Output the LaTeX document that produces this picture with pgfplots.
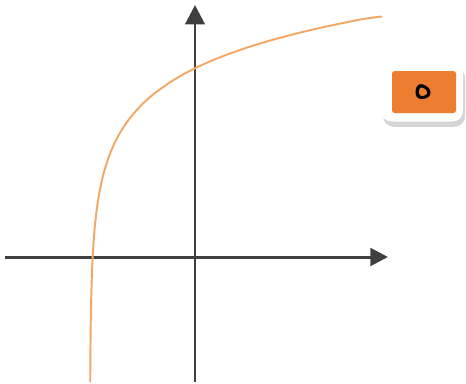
\documentclass[border=0pt]{standalone}
\usepackage{pgfplots}
\pgfplotsset{compat=1.18}
\usetikzlibrary{arrows.meta,shadows}
\usepackage{fontspec}
\TeXXeTstate=1
\newfontfamily\arabicfont[Script=Arabic]{DejaVu Sans}
\definecolor{axgray}{HTML}{3F3F3F}
\definecolor{curveor}{HTML}{F4A765}
\definecolor{boxor}{HTML}{ED7D31}
\begin{document}
\begin{tikzpicture}
\begin{axis}[
  hide axis, scale only axis, clip=false,
  width=9.32cm, height=7.64cm,
  xmin=-3.9, xmax=5.42, ymin=-2.5, ymax=5.14,
]
\path (axis cs:-3.9,-2.5) rectangle (axis cs:5.42,5.14);
\draw[axgray, line width=1.7pt, -{Triangle[width=10pt,length=10pt]}] (axis cs:-3.8,0) -- (axis cs:3.86,0);
\draw[axgray, line width=1.7pt, -{Triangle[width=11pt,length=11pt]}] (axis cs:0,-2.5) -- (axis cs:0,5.04);
\addplot[curveor, line width=1.1pt, smooth] coordinates {
(-2.0953,-2.50) (-2.094,-2.260) (-2.092,-1.963) (-2.09,-1.733) (-2.085,-1.316)
(-2.08,-1.019) (-2.07,-0.602) (-2.06,-0.305) (-2.05,-0.076) (-2.04,0.113)
(-2.02,0.408) (-2.0,0.638) (-1.97,0.909) (-1.94,1.122) (-1.9,1.352)
(-1.85,1.582) (-1.8,1.770) (-1.7,2.066) (-1.6,2.296) (-1.5,2.484)
(-1.35,2.714) (-1.2,2.901) (-1.0,3.108) (-0.8,3.280) (-0.5,3.494)
(-0.2,3.671) (0.1,3.822) (0.5,3.994) (1.0,4.175) (1.5,4.329)
(2.0,4.463) (2.5,4.582) (3.0,4.688) (3.4,4.766) (3.74,4.81)
};
\node[fill=white, rounded corners=6pt, minimum width=1.64cm, minimum height=1.18cm,
  drop shadow={shadow xshift=1.2pt, shadow yshift=-3pt, opacity=0.3, fill=black!55}] at (axis cs:4.54,3.3) {};
\node[fill=boxor, rounded corners=1.5pt, minimum width=1.28cm, minimum height=0.84cm,
  font=\arabicfont\fontsize{22}{24}\selectfont] at (axis cs:4.58,3.3) {\beginR ه\endR};
\end{axis}
\end{tikzpicture}
\end{document}
